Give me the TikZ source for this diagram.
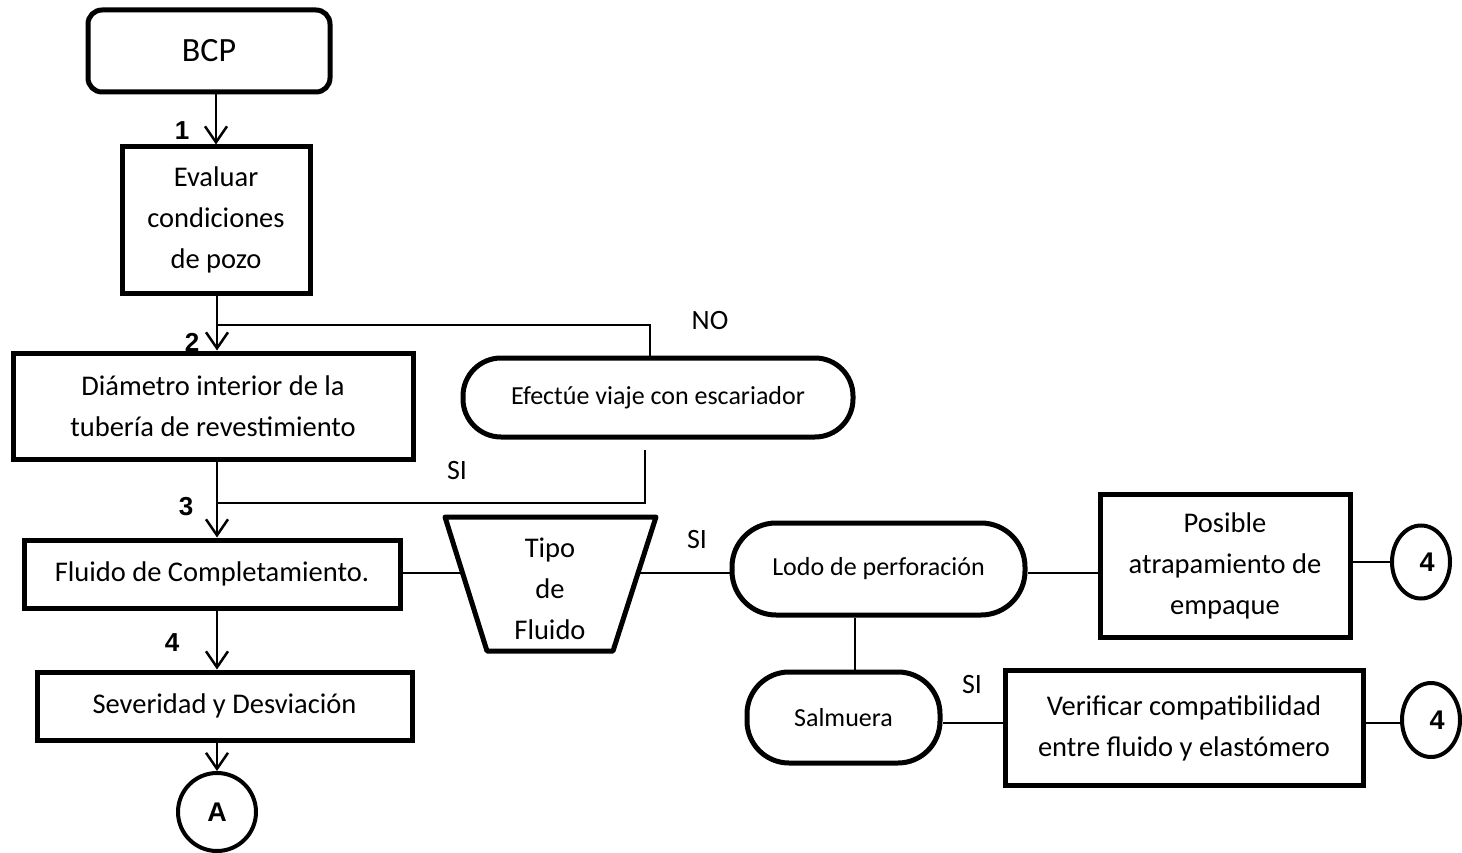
\documentclass[tikz,border=0pt]{standalone}
\usepackage{fontspec}
\setmainfont{Carlito}
\newfontfamily\numfont{Liberation Sans}
\usetikzlibrary{arrows.meta,shapes.geometric,calc}
\begin{document}
\begin{tikzpicture}[x=1pt,y=-1pt,
  every node/.style={inner sep=0pt},
  boxline/.style={draw,line width=5pt},
  procbox/.style={boxline,rectangle,align=center,font=\fontsize{28.5}{41}\selectfont},
  termbox/.style={boxline,rectangle,align=center,font=\fontsize{26}{36}\selectfont},
  connector/.style={draw,circle,line width=4pt,font=\numfont\bfseries\fontsize{27}{30}\selectfont},
  wire/.style={line width=2.5pt},
  flow/.style={wire,-{Straight Barb[length=16pt,width=22pt]}},
  step num/.style={font=\numfont\bfseries\fontsize{26}{30}\selectfont},
  answer/.style={font=\fontsize{28}{34}\selectfont}
]
\useasboundingbox (0,0) rectangle (1462,853);

% main column
\node[termbox,rounded corners=14pt,minimum width=242pt,minimum height=82pt,
      font=\fontsize{34}{40}\selectfont] (bcp) at (209,51) {BCP};
\node[procbox,minimum width=188pt,minimum height=146pt] (eval) at (216,220)
  {Evaluar\\condiciones\\de pozo};
\node[procbox,minimum width=400pt,minimum height=106pt] (diam) at (213,406)
  {Diámetro interior de la\\tubería de revestimiento};
\node[procbox,minimum width=376pt,minimum height=68pt] (fluido) at (212,574)
  {Fluido de Completamiento.};
\node[procbox,minimum width=375pt,minimum height=68pt] (sev) at (224.5,706)
  {Severidad y Desviación};
\node[connector,minimum width=78pt] (cA) at (217,812) {A};

% reamer trip
\node[termbox,rounded corners=38pt,minimum width=390pt,minimum height=79pt] (efec) at (658,397.5)
  {Efectúe viaje con escariador};

% fluid type decision
\node[align=center,font=\fontsize{28.5}{41}\selectfont] (tipo) at (550,589) {Tipo\\de\\Fluido};
\draw[line width=5pt,line join=round] (445,517) -- (656,517) -- (613,651) -- (487,651) -- cycle;
\coordinate (tipoL) at (462.6,573);
\coordinate (tipoR) at (638,573);

% fluid branches
\node[termbox,rounded corners=44pt,minimum width=293pt,minimum height=92pt] (lodo) at (878.5,569)
  {Lodo de perforación};
\node[procbox,minimum width=250pt,minimum height=143pt] (posible) at (1225,565.5)
  {Posible\\atrapamiento de\\empaque};
\node[connector,ellipse,minimum width=58pt,minimum height=73pt] (c4a) at (1421,562) {\hspace*{12pt}4};

\node[termbox,rounded corners=42pt,minimum width=193pt,minimum height=91pt] (salm) at (843.5,717.5)
  {Salmuera};
\node[procbox,minimum width=358pt,minimum height=115pt] (verif) at (1184,728)
  {Verificar compatibilidad\\entre fluido y elastómero};
\node[connector,ellipse,minimum width=58pt,minimum height=74pt] (c4b) at (1431,720) {\hspace*{12pt}4};

% junction points
\coordinate (j1) at (217,325);
\coordinate (j2) at (217,503);
\coordinate (drop) at (650,0);
\coordinate (rise) at (645,450);
\coordinate (lx) at (855,0);

% main flow
\draw[flow] (eval.north |- bcp.south) -- (eval.north |- eval.north);
\draw[flow] (j1 |- eval.south) -- (j1 |- diam.north);
\draw[flow] (j1 |- diam.south) -- (j1 |- fluido.north);
\draw[flow] (j1 |- fluido.south) -- (j1 |- sev.north);
\draw[flow] (j1 |- sev.south) -- (cA.north);

% reamer loop
\draw[wire] (j1) -| (drop |- efec.north);
\draw[wire] (rise) |- (j2);

% fluid type
\draw[wire] (fluido.east |- tipoL) -- (tipoL);
\draw[wire] (tipoR) -- (lodo.west |- tipoR);
\draw[wire] (lodo.east |- tipoR) -- (posible.west |- tipoR);
\draw[wire] (c4a.west -| posible.east) -- (c4a.west);
\draw[wire] (lodo.south -| lx) -- (salm.north -| lx);
\draw[wire] (salm.east |- 0,723) -- (verif.west |- 0,723);
\draw[wire] (verif.east |- 0,723) -- (c4b.west |- 0,723);

% step numbers and answers
\node[step num] (n1) at (182,131) {1};
\node[step num] (n2) at (192,342) {2};
\node[step num] (n3) at (186,507) {3};
\node[step num] (n4) at (172,643) {4};
\node[answer] (no) at (710,321) {NO};
\node[answer] (si1) at (457,471) {SI};
\node[answer] (si2) at (697,540) {SI};
\node[answer] (si3) at (972,685) {SI};
\end{tikzpicture}
\end{document}
